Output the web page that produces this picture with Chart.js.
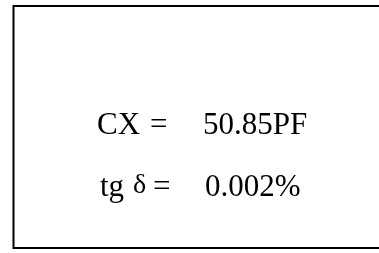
<!DOCTYPE html>
<html>
<head>
<meta charset="utf-8">
<script src="https://cdn.jsdelivr.net/npm/chart.js@4/dist/chart.umd.min.js"></script>
<style>
body{margin:0;background:#fff;}
#wrap{width:379px;height:253px;}
</style>
</head>
<body>
<div id="wrap"><canvas id="box-chart" width="379" height="253"></canvas></div>
<script>
// readings shown in the box
var names = ['CX', 'tg'];
var symbols = ['', 'δ'];
var values = ['50.85PF', '0.002%'];

var readoutPlugin = {
	id:'readout',
	afterDraw:function(chart){
		var ctx = chart.ctx;
		ctx.save();
		// frame (right side runs off the picture)
		ctx.strokeStyle = '#000';
		ctx.lineWidth = 2;
		ctx.beginPath();
		ctx.moveTo(385, 6);
		ctx.lineTo(13.5, 6);
		ctx.lineTo(13.5, 248);
		ctx.lineTo(385, 248);
		ctx.stroke();

		ctx.fillStyle = '#000';
		ctx.textBaseline = 'alphabetic';
		var base = [134, 196];
		var nameX = [97, 100];
		var eqX = [150, 153];
		var valX = [203, 205];
		for(var i=0;i<names.length;i++){
			ctx.font = '31px "Liberation Serif"';
			ctx.fillText(names[i], nameX[i], base[i]);
			if(symbols[i]){
				// raised, slightly smaller delta
				ctx.font = '28px "Liberation Serif"';
				ctx.fillText(symbols[i], 133, base[i]-3);
			}
			ctx.font = '31px "Liberation Serif"';
			ctx.fillText('=', eqX[i], base[i]);
			ctx.fillText(values[i], valX[i], base[i]);
		}
		ctx.restore();
	}
};

new Chart(document.getElementById('box-chart'), {
	type:'scatter',
	data:{ datasets:[{ data:[] }] },
	options:{
		responsive:false,
		animation:false,
		plugins:{ legend:{display:false}, tooltip:{enabled:false} },
		scales:{ x:{display:false}, y:{display:false} }
	},
	plugins:[readoutPlugin]
});
</script>
</body>
</html>
